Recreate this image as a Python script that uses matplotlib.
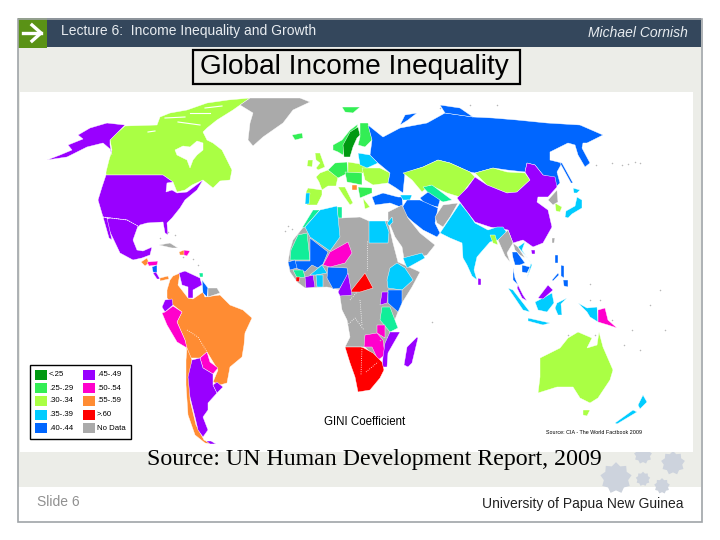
import matplotlib
matplotlib.use("Agg")
import matplotlib.pyplot as plt
import numpy as np
from matplotlib.patches import Rectangle
from matplotlib.path import Path

# colour classes of the gini map
DGREEN = "#009911"
GREEN = "#33ee55"
LIME = "#aaff44"
CYAN = "#00ccff"
BLUE = "#0066ff"
PURPLE = "#9900ff"
MAGENTA = "#ff00cc"
ORANGE = "#ff8c33"
RED = "#ff0000"
GREY = "#aaaaaa"
TEAL = "#11ee99"

legend_labels = ["<.25", ".25-.29", ".30-.34", ".35-.39", ".40-.44",
                 ".45-.49", ".50-.54", ".55-.59", ">.60", "No Data"]
legend_colors = [DGREEN, GREEN, LIME, CYAN, BLUE, PURPLE, MAGENTA, ORANGE, RED, GREY]

# outlines, in picture pixels
canada = [(106,175),(163,175),(173,182),(177,192),(185,190),(192,185),(203,180),(213,188),(220,181),(230,180),(232,170),(226,158),(222,150),(213,143),(207,140),(203,132),(207,128),(217,120),(233,110),(250,98),(228,100),(207,103),(187,110),(170,113),(160,117),(157,125),(125,126),(117,133),(110,140),(112,150),(109,160),(106,172)]
hudson = [(175,150),(183,146),(190,147),(197,141),(203,143),(203,150),(197,155),(193,160),(190,168),(187,160),(177,155)]
alaska = [(125,125),(107,123),(90,128),(78,135),(83,139),(68,145),(72,150),(60,155),(47,160),(67,157),(87,147),(103,143),(110,149),(112,155),(110,145),(110,140)]
usa = [(106,175),(163,175),(173,182),(167,183),(166,192),(172,190),(177,193),(187,192),(203,180),(197,190),(185,200),(180,208),(172,218),(167,223),(168,235),(165,233),(163,222),(147,223),(140,225),(138,227),(127,220),(103,217),(98,200),(102,187)]
mexico = [(110,218),(127,220),(138,226),(133,240),(137,250),(143,251),(152,247),(150,255),(142,258),(133,260),(120,253),(110,232),(104,220)]
baja = [(103,217),(107,218),(112,240),(109,238)]
guatemala = [(141,262),(147,258),(149,263),(145,266)]
honduras = [(147,262),(158,261),(157,265),(149,266)]
nicaragua = [(152,267),(157,265),(157,273),(153,272)]
panama = [(153,273),(156,272),(160,279),(157,279)]
panama2 = [(160,278),(168,276),(169,279),(160,281)]
cuba = [(159,245),(170,243),(178,248),(172,248)]
haiti = [(179,252),(184,250),(185,255),(180,255)]
dominican = [(184,250),(190,251),(187,256),(184,255)]
brazil = [(170,280),(173,276),(180,273),(178,285),(188,298),(193,299),(203,292),(205,297),(220,295),(230,305),(243,310),(252,318),(245,333),(244,345),(242,357),(230,367),(227,383),(220,385),(213,382),(218,370),(207,352),(200,358),(188,358),(185,340),(177,322),(182,312),(173,305),(167,298),(167,290)]
venezuela = [(179,273),(185,271),(200,278),(202,285),(193,290),(193,298),(188,298),(188,287),(182,285)]
guyana = [(202,280),(208,288),(207,297),(203,293)]
guiana = [(208,288),(217,288),(220,293),(208,297)]
trinidad = [(199,273),(203,273),(203,277),(200,277)]
ecuador = [(165,300),(172,299),(173,305),(165,312),(162,307)]
peru = [(165,312),(173,306),(182,312),(177,322),(185,340),(187,348),(177,342),(167,325),(162,313)]
paraguay = [(200,358),(207,352),(210,362),(218,368),(213,374),(203,368)]
chile = [(187,348),(192,360),(190,375),(190,400),(196,425),(204,440),(212,444),(205,443),(195,435),(188,415),(186,385),(186,360)]
argentina = [(192,360),(200,358),(203,368),(213,374),(213,385),(217,393),(208,403),(208,410),(203,417),(208,430),(203,437),(198,430),(195,417),(190,397),(188,377)]
uruguay = [(213,385),(217,382),(223,387),(217,393)]
fuego = [(206,441),(211,441),(216,444),(210,444)]
greenland = [(240,105),(250,98),(300,98),(310,102),(293,110),(283,123),(263,137),(253,146),(248,140),(250,123),(253,113)]
iceland = [(292,135),(302,133),(303,138),(295,140)]
svalbard = [(342,107),(360,107),(353,113),(345,112)]
norway = [(333,145),(342,140),(350,130),(358,124),(356,130),(345,143),(343,155),(338,152),(333,150)]
sweden = [(358,127),(360,135),(357,138),(353,147),(350,157),(344,157),(343,145),(350,132)]
finland = [(360,123),(368,123),(372,140),(365,147),(358,145),(360,137)]
uk = [(315,153),(320,153),(325,167),(318,170),(316,168),(320,163),(316,160)]
ireland = [(308,160),(313,160),(312,167),(307,166)]
france = [(320,173),(328,170),(338,177),(336,186),(328,186),(322,190),(319,182),(316,177)]
spain = [(308,188),(322,190),(322,195),(317,205),(307,205),(306,192)]
portugal = [(306,193),(310,193),(309,204),(305,204)]
italy = [(338,187),(345,187),(353,203),(350,205),(343,195)]
germany = [(335,163),(347,162),(348,173),(338,178),(328,170)]
poland = [(348,162),(367,165),(368,173),(348,173)]
central_eu = [(345,172),(362,173),(362,185),(347,182)]
serbia = [(352,185),(357,185),(357,190),(352,190)]
ukraine = [(362,168),(380,168),(390,173),(388,183),(373,185),(365,180)]
baltics = [(358,153),(370,155),(378,163),(367,168),(360,165)]
balkans = [(358,187),(372,188),(372,193),(360,198)]
greece = [(363,198),(370,207),(365,209)]
turkey = [(372,197),(383,193),(398,197),(402,197),(403,208),(390,203),(375,205)]
caucasus = [(400,195),(412,195),(410,200),(403,200)]
russia = [(368,125),(383,137),(400,128),(427,123),(445,113),(473,117),(493,118),(517,120),(547,123),(580,125),(603,135),(587,143),(583,143),(582,148),(590,163),(585,167),(578,155),(575,145),(568,143),(550,152),(550,160),(562,163),(557,172),(560,183),(555,188),(553,178),(543,175),(535,165),(527,163),(525,172),(507,170),(493,168),(475,173),(470,172),(450,163),(438,160),(423,167),(405,173),(403,193),(396,188),(388,183),(390,173),(378,163),(370,155),(372,140)]
novaya = [(400,125),(405,115),(417,113),(408,120)]
taymyr = [(440,105),(460,108),(473,117),(445,113)]
sakhalin = [(560,163),(562,163),(573,183),(571,183)]
kazakhstan = [(403,173),(423,167),(438,160),(450,163),(470,172),(475,177),(467,187),(460,197),(447,193),(430,185),(422,192),(412,180)]
mongolia = [(475,173),(493,168),(507,172),(525,173),(530,180),(517,192),(507,193),(487,185)]
china = [(475,177),(487,185),(507,193),(517,192),(530,180),(525,172),(527,163),(535,165),(543,175),(555,177),(557,187),(548,197),(538,197),(537,202),(548,210),(552,227),(543,243),(533,247),(523,240),(513,243),(508,230),(490,227),(475,222),(468,213),(457,198),(467,188)]
n_korea = [(548,200),(557,190),(558,202),(553,205)]
s_korea = [(555,203),(562,207),(560,212),(556,211)]
uzbekistan = [(423,187),(432,185),(452,200),(443,202),(430,195)]
turkmenistan = [(420,198),(428,192),(440,200),(438,207),(425,204)]
iran = [(407,200),(420,200),(438,208),(435,223),(440,233),(437,237),(423,230),(413,222),(403,213),(403,206)]
afghanistan = [(435,217),(443,205),(458,203),(450,217),(443,227),(437,223)]
india = [(440,233),(450,218),(460,203),(468,213),(475,223),(488,230),(497,227),(503,227),(507,233),(498,240),(490,242),(483,250),(477,257),(474,270),(477,280),(472,276),(467,265),(463,258),(462,243),(450,238)]
bangladesh = [(490,235),(495,235),(498,245),(493,243)]
sri_lanka = [(478,278),(481,279),(481,285),(478,285)]
myanmar = [(498,240),(508,230),(513,243),(507,253),(510,262),(505,256)]
vietnam = [(518,247),(525,242),(522,250),(532,265),(527,278),(531,263),(525,255)]
laos = [(513,243),(518,247),(525,258),(520,255),(515,250)]
thailand = [(512,252),(517,252),(525,263),(520,265),(515,265),(513,258)]
cambodia = [(522,265),(530,267),(527,273),(522,272)]
malay = [(513,268),(515,278),(518,285),(513,280)]
malaysia = [(518,285),(523,295),(527,301),(522,298),(517,288)]
sumatra = [(508,288),(513,290),(530,312),(523,310)]
java = [(528,318),(550,323),(543,325),(528,321)]
borneo = [(535,302),(543,298),(552,293),(554,303),(547,312),(538,310)]
sabah = [(538,298),(548,285),(553,290),(543,299)]
sulawesi = [(557,303),(567,298),(561,304),(562,315),(558,315),(555,308)]
luzon = [(555,255),(558,255),(558,263),(555,263)]
mindanao = [(563,280),(568,280),(568,287),(564,286)]
palawan = [(552,280),(558,273),(559,275),(553,281)]
visayas = [(561,265),(564,266),(564,278),(561,276)]
taiwan = [(552,238),(555,238),(554,243),(552,243)]
hainan = [(531,250),(535,250),(535,254),(532,254)]
west_papua = [(578,303),(587,308),(597,307),(598,322),(590,317),(587,312)]
png = [(598,310),(605,308),(608,320),(617,328),(608,325),(598,322)]
australia = [(540,358),(560,348),(568,338),(578,332),(592,338),(587,348),(597,345),(599,332),(603,347),(613,370),(610,380),(598,398),(590,403),(580,398),(573,387),(557,387),(538,393),(540,377)]
tasmania = [(583,410),(590,410),(587,416),(583,415)]
nz_south = [(615,423),(633,410),(637,412),(617,424)]
nz_north = [(638,405),(643,395),(647,402),(640,409)]
japan = [(565,217),(566,211),(575,206),(577,197),(582,200),(582,208),(572,214),(568,218)]
hokkaido = [(573,188),(580,190),(577,193),(574,193)]
africa = [(342,218),(360,217),(369,221),(388,221),(393,243),(398,262),(420,272),(412,287),(402,303),(398,312),(390,332),(385,355),(378,360),(365,347),(345,347),(350,337),(347,320),(342,310),(340,297),(340,290),(327,287),(305,288),(297,282),(290,272),(288,262),(290,250),(293,240),(305,225),(320,210),(342,207)]
morocco = [(302,228),(313,210),(320,210),(305,227)]
tunisia = [(337,207),(342,207),(342,218),(338,218)]
algeria = [(305,227),(320,210),(337,206),(340,237),(330,251),(310,237)]
mauritania = [(298,235),(307,233),(310,260),(290,260),(291,250)]
mali = [(310,238),(328,252),(323,264),(318,268),(312,265),(305,272),(296,268),(290,261),(310,261)]
niger = [(330,252),(348,242),(352,253),(345,263),(330,267),(323,265)]
egypt = [(369,221),(385,221),(389,232),(388,243),(369,243)]
ethiopia = [(387,280),(390,268),(397,263),(405,268),(413,280),(402,290),(388,288)]
kenya = [(388,290),(402,290),(402,303),(398,312),(388,303)]
uganda = [(382,292),(388,292),(387,303),(380,305)]
tanzania = [(382,307),(390,307),(398,328),(390,332),(380,320)]
congo_se = [(377,325),(385,325),(385,338),(377,333)]
zambia = [(365,335),(377,333),(383,340),(385,355),(378,360),(372,347),(364,347)]
malawi = [(387,337),(390,340),(391,345),(388,343)]
mozambique = [(390,332),(400,332),(388,353),(387,367),(382,367),(383,357),(385,343)]
madagascar = [(417,337),(418,338),(412,363),(408,367),(404,365),(407,347)]
south_africa = [(345,347),(362,347),(373,353),(382,362),(384,370),(380,378),(370,390),(358,392),(355,377),(350,363)]
car = [(350,292),(365,273),(373,288),(360,292)]
nigeria = [(327,278),(328,267),(347,268),(348,275),(340,288),(333,289)]
cameroon = [(338,292),(348,273),(352,295),(340,296)]
burkina = [(310,275),(322,265),(327,273),(316,275)]
ivory = [(305,277),(313,275),(315,287),(306,288)]
ghana = [(316,275),(323,275),(323,287),(317,287)]
senegal = [(288,262),(295,260),(297,268),(290,270)]
guinea = [(293,270),(303,270),(305,277),(297,278)]
sierra = [(296,277),(300,277),(299,282),(296,281)]
arabia = [(388,212),(402,205),(408,218),(420,233),(435,245),(427,255),(407,262),(405,265),(402,247),(395,237),(388,220)]
yemen = [(403,258),(422,253),(425,258),(407,268)]
levant = [(387,223),(392,217),(393,222),(389,226)]

# painted in this order, later shapes sit on earlier ones
countries = [
    (LIME, canada), ("white", hudson), (PURPLE, alaska), (PURPLE, usa), (PURPLE, mexico), (PURPLE, baja),
    (ORANGE, guatemala), (MAGENTA, honduras), (BLUE, nicaragua), (PURPLE, panama), (ORANGE, panama2),
    (GREY, cuba), (ORANGE, haiti), (MAGENTA, dominican), (ORANGE, brazil), (PURPLE, venezuela), (BLUE, guyana),
    (GREY, guiana), (TEAL, trinidad), (PURPLE, ecuador), (MAGENTA, peru), (MAGENTA, paraguay), (ORANGE, chile),
    (PURPLE, argentina), (PURPLE, uruguay), (PURPLE, fuego), (GREY, greenland), (GREEN, iceland), (GREEN, svalbard),
    (GREEN, norway), (GREEN, finland), (DGREEN, sweden), (LIME, uk), (LIME, ireland), (LIME, france), (LIME, spain),
    (CYAN, portugal), (LIME, italy), (GREEN, germany), (LIME, poland), (GREEN, central_eu), (LIME, ukraine),
    (CYAN, baltics), (GREEN, balkans), (ORANGE, serbia), (LIME, greece), (BLUE, russia), (BLUE, novaya), (BLUE, taymyr),
    (BLUE, sakhalin), (BLUE, turkey), (CYAN, caucasus), (LIME, kazakhstan), (LIME, mongolia), (PURPLE, china),
    (GREY, n_korea), (LIME, s_korea), (TEAL, uzbekistan), (BLUE, turkmenistan), (BLUE, iran), (GREY, afghanistan),
    (CYAN, india), (LIME, bangladesh), (PURPLE, sri_lanka), (GREY, myanmar), (CYAN, vietnam), (GREY, laos),
    (BLUE, thailand), (BLUE, cambodia), (BLUE, malay), (PURPLE, malaysia), (CYAN, sumatra), (CYAN, java),
    (CYAN, borneo), (PURPLE, sabah), (CYAN, sulawesi), (BLUE, luzon), (BLUE, mindanao), (BLUE, palawan), (BLUE, visayas),
    (GREY, taiwan), (PURPLE, hainan), (CYAN, west_papua), (MAGENTA, png), (LIME, australia), (LIME, tasmania),
    (CYAN, nz_south), (CYAN, nz_north), (CYAN, japan), (CYAN, hokkaido), (GREY, africa), (TEAL, morocco), (TEAL, tunisia),
    (CYAN, algeria), (TEAL, mauritania), (BLUE, mali), (MAGENTA, niger), (CYAN, egypt), (CYAN, ethiopia), (BLUE, kenya),
    (PURPLE, uganda), (TEAL, tanzania), (MAGENTA, congo_se), (MAGENTA, zambia), (TEAL, malawi), (PURPLE, mozambique),
    (PURPLE, madagascar), (RED, south_africa), (RED, car), (BLUE, nigeria), (PURPLE, cameroon), (CYAN, burkina),
    (PURPLE, ivory), (CYAN, ghana), (BLUE, senegal), (TEAL, guinea), (RED, sierra), (GREY, arabia), (CYAN, yemen), (CYAN, levant),
]

# white gaps between the arctic islands of canada
arctic_gaps = [[(165,118),(185,117)], [(190,113),(210,113)], [(205,108),(222,106)], [(178,122),(200,125)], [(148,132),(155,131)]]

# dotted borders inside one colour class
dotted_borders = [
    [(187,330),(198,337),(207,352)],
    [(103,217),(127,220),(138,226)],
    [(360,300),(362,325)],
    [(362,347),(361,375)],
    [(366,372),(378,362)],
    [(342,330),(355,318),(364,330)],
    [(367,241),(367,270)],
    [(350,300),(357,292)],
]

# specks of small islands
island_x = [288, 292, 285, 160, 168, 175, 183, 193, 198, 596, 612, 622, 628, 635, 640, 600, 650, 660, 665, 632, 624, 590, 432, 380, 568, 590, 612, 595, 640, 440, 470, 497]
island_y = [226, 229, 231, 238, 232, 235, 257, 259, 265, 165, 163, 165, 164, 162, 163, 300, 305, 290, 330, 330, 345, 300, 322, 340, 335, 284, 320, 335, 350, 108, 105, 105]

star_x = [616, 673, 643, 662, 643]
star_y = [478, 463, 479, 486, 455]
star_size = [520, 300, 110, 130, 170]

fig = plt.figure(figsize=(7.2, 5.4), dpi=100)
ax = fig.add_axes([0, 0, 1, 1])
ax.set_xlim(0, 720)
ax.set_ylim(540, 0)
ax.axis("off")

# slide furniture
ax.add_patch(Rectangle((18, 47), 683, 440, fc="#ecede8", ec="none"))
ax.add_patch(Rectangle((18, 18), 683, 29, fc="#34475c", ec="none"))
ax.add_patch(Rectangle((18, 18), 29, 30, fc="#5a9216", ec="none"))
ax.add_patch(Rectangle((17.5, 18.5), 684, 503.5, fc="none", ec="#a0a4a8", lw=1.2))
ax.plot([23, 41], [33, 33], color="white", lw=2.4)
ax.plot([32, 41, 32], [25, 33, 41], color="white", lw=2.4)

# the blunt stars of the university logo
angles = np.linspace(0, 2 * np.pi, 19)[:-1]
radii = np.where(np.arange(18) % 2 == 0, 1.0, 0.78)
star_verts = np.column_stack([radii * np.sin(angles), radii * np.cos(angles)])
star_marker = Path(np.vstack([star_verts, star_verts[0]]), closed=True)
ax.scatter(star_x, star_y, s=star_size, marker=star_marker, color="#cdd3dd", linewidths=0)

ax.text(61, 31.5, "Lecture 6:  Income Inequality and Growth", color="#e8ecf0", fontsize=10,
        family="Liberation Sans", va="center")
ax.text(688, 33, "Michael Cornish", color="#e8ecf0", fontsize=10, style="italic",
        family="Liberation Sans", va="center", ha="right")
ax.add_patch(Rectangle((192.5, 50), 327, 34, fc="#ecede8", ec="black", lw=1.6))
ax.text(200, 67.5, "Global Income Inequality", fontsize=20.2, family="Liberation Sans", va="center")

# map
ax.add_patch(Rectangle((20, 92), 673, 360, fc="white", ec="none"))
for color, outline in countries:
    xs, ys = zip(*outline)
    ax.fill(xs, ys, color=color, ec="white", lw=0.3)
for gap in arctic_gaps:
    xs, ys = zip(*gap)
    ax.plot(xs, ys, color="white", lw=0.8)
for border in dotted_borders:
    xs, ys = zip(*border)
    ax.plot(xs, ys, color="white", lw=0.6, ls=":")
ax.scatter(island_x, island_y, s=1.2, color="#b8b8b8", linewidths=0)

ax.text(324, 422, "GINI Coefficient", fontsize=8.3, family="Liberation Sans", va="center")
ax.text(546, 433, "Source: CIA - The World Factbook 2009", fontsize=3.9, family="Liberation Sans", va="center")

# legend
ax.add_patch(Rectangle((29.5, 365), 101, 74, fc="white", ec="black", lw=1))
rows = [375, 388, 401, 415, 428]
for i, (label, color) in enumerate(zip(legend_labels, legend_colors)):
    col_x = 35 if i < 5 else 83
    y = rows[i % 5]
    ax.add_patch(Rectangle((col_x, y - 5), 12, 10, fc=color, ec="none"))
    ax.text(col_x + 14, y, label, fontsize=5.6, family="Liberation Sans", va="center")

ax.text(147, 459, "Source: UN Human Development Report, 2009", fontsize=17.2, family="Liberation Serif", va="center")
ax.text(37, 502, "Slide 6", fontsize=10, color="#909090", family="Liberation Sans", va="center")
ax.text(683, 504, "University of Papua New Guinea", fontsize=10, color="#222222", family="Liberation Sans",
        va="center", ha="right")

fig.savefig("out.png", dpi=100)
